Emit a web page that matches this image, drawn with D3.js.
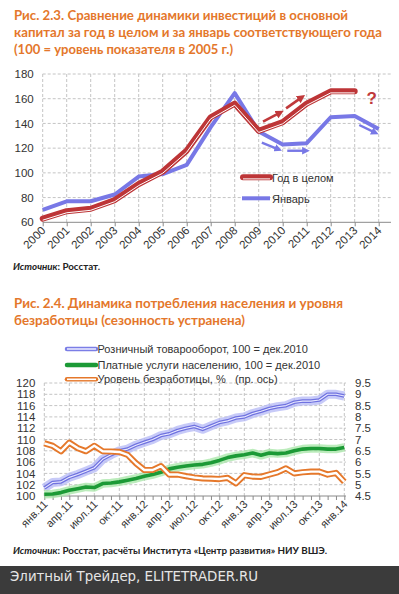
<!DOCTYPE html>
<html>
<head>
<meta charset="utf-8">
<script src="https://cdn.jsdelivr.net/npm/d3@7"></script>
<style>
  body { margin: 0; background: #fff; }
  svg { display: block; }
  .title { font-family: Lato, 'Open Sans', sans-serif; font-weight: bold; font-size: 13px; fill: #e4772b; }
  .lbl { font-family: 'Liberation Sans', Arial, sans-serif; font-size: 11px; fill: #333; }
  .src { font-family: Lato, 'Open Sans', sans-serif; font-size: 10px; fill: #222; font-weight: bold; }
  .grid { stroke: #c4c4c4; stroke-dasharray: 3,2; stroke-width: 1; }
  .axis-line { stroke: #8a8a8a; stroke-width: 1; }
</style>
</head>
<body>
<svg width="399" height="594"></svg>
<script>
// ---- data: chart 2.3 ----
const years = [2000, 2001, 2002, 2003, 2004, 2005, 2006, 2007, 2008, 2009, 2010, 2011, 2012, 2013, 2014];
const yearTotal = [63, 69, 71, 78, 91, 101, 118, 145, 156, 134, 141, 156, 166, 166];
const january = [70, 77, 77, 82.5, 97, 99, 106.5, 137, 164.5, 133.5, 123, 124, 145, 146, 135.5];
const topTicks = [60, 80, 100, 120, 140, 160, 180];
// annotation arrows [year0, value0, year1, value1]
const redArrows = [[2009.18, 141.4, 2009.89, 148.7], [2010.14, 152.2, 2010.79, 161.1]];
const blueArrows = [[2009.13, 124.4, 2009.82, 119.1], [2010.19, 117.9, 2010.97, 117.9], [2013.19, 138.7, 2013.85, 132.5]];

// ---- data: chart 2.4 (monthly, янв.11 .. янв.14) ----
const monthLabels = ['янв.11', 'апр.11', 'июл.11', 'окт.11', 'янв.12', 'апр.12', 'июл.12',
  'окт.12', 'янв.13', 'апр.13', 'июл.13', 'окт.13', 'янв.14'];
const retail = [101.4, 102.4, 102.5, 103.3, 103.8, 104.4, 105.0, 106.5, 107.3, 108.0, 108.3, 109.0,
  109.5, 110.0, 110.7, 111.0, 111.6, 112.0, 112.3, 111.8, 112.4, 113.0, 113.3, 113.8,
  114.0, 114.6, 115.0, 115.5, 115.8, 116.0, 116.6, 116.8, 116.8, 117.0, 118.0, 118.0, 117.7];
const services = [100.3, 100.35, 100.6, 101.0, 101.3, 101.6, 101.5, 102.2, 102.3, 102.5, 102.8, 103.1,
  103.5, 103.8, 104.2, 104.8, 105.1, 105.3, 105.5, 105.6, 105.9, 106.3, 106.8, 107.1,
  107.3, 107.6, 107.2, 107.6, 107.5, 107.6, 108.0, 108.3, 108.4, 108.4, 108.3, 108.3, 108.6];
const unemployment = [6.83, 6.72, 6.48, 6.86, 6.62, 6.48, 6.72, 6.48, 6.47, 6.45, 6.32, 5.95,
  5.65, 5.65, 5.82, 5.45, 5.45, 5.38, 5.32, 5.28, 5.27, 5.25, 5.3, 5.06,
  5.42, 5.36, 5.35, 5.45, 5.55, 5.72, 5.5, 5.55, 5.58, 5.58, 5.45, 5.52, 5.13];
const leftTicks = [100, 102, 104, 106, 108, 110, 112, 114, 116, 118, 120];
const rightTicks = [4.5, 5, 5.5, 6, 6.5, 7, 7.5, 8, 8.5, 9, 9.5];

const svg = d3.select('svg');

const defs = svg.append('defs');
const addHead = (id, color) => defs.append('marker')
  .attr('id', id).attr('viewBox', '0 0 10 10').attr('refX', 5).attr('refY', 5)
  .attr('markerWidth', 3.2).attr('markerHeight', 3.2).attr('orient', 'auto')
  .append('path').attr('d', 'M0,0L10,5L0,10z').attr('fill', color);
addHead('headRed', '#c0393b');
addHead('headBlue', '#7878e6');

// titles
const titleLines = (lines, y0, widths) => lines.forEach((t, i) => {
  svg.append('text').attr('class', 'title').attr('x', 14).attr('y', y0 + i * 17)
    .attr('textLength', widths[i]).attr('lengthAdjust', 'spacingAndGlyphs').text(t);
});
titleLines(['Рис. 2.3. Сравнение динамики инвестиций в основной',
  'капитал за год в целом и за январь соответствующего года',
  '(100 = уровень показателя в 2005 г.)'], 20, [334, 368, 219]);

// ===== chart 2.3 =====
const topPlotRight = 391;
const x1 = d3.scaleLinear().domain([2000, 2014]).range([42.7, 378.7]);
const y1 = d3.scaleLinear().domain([60, 180]).range([222.3, 74]);
const g1 = svg.append('g');

g1.selectAll('.hgrid').data(topTicks.slice(1)).enter().append('line')
  .attr('class', 'grid').attr('x1', x1(2000)).attr('x2', topPlotRight)
  .attr('y1', d => y1(d)).attr('y2', d => y1(d));
g1.selectAll('.vgrid').data(years).enter().append('line')
  .attr('class', 'grid').attr('x1', d => x1(d)).attr('x2', d => x1(d))
  .attr('y1', y1(180)).attr('y2', y1(60));

const yAxis1 = g1.append('g').attr('transform', `translate(${x1(2000)},0)`)
  .call(d3.axisLeft(y1).tickValues(topTicks).tickSize(0).tickPadding(9));
yAxis1.select('.domain').remove();
yAxis1.selectAll('text').attr('class', 'lbl').style('font-size', '11.5px');

const xAxis1 = g1.append('g').attr('transform', `translate(0,${y1(60)})`)
  .call(d3.axisBottom(x1).tickValues(years).tickFormat(d3.format('d')).tickSize(4).tickSizeOuter(0));
xAxis1.select('.domain').attr('d', `M${x1(2000)},0H${topPlotRight}`).attr('class', 'axis-line');
xAxis1.selectAll('line').attr('stroke', '#8a8a8a');
xAxis1.selectAll('text').attr('class', 'lbl').style('font-size', '11.5px')
  .attr('text-anchor', 'end').attr('dy', null).attr('y', 0)
  .attr('transform', 'translate(3,9) rotate(-45)');

const line1 = d3.line().x((d, i) => x1(years[i])).y(d => y1(d));
g1.append('path').attr('d', line1(january)).attr('fill', 'none')
  .attr('stroke', '#7878e6').attr('stroke-width', 4).attr('stroke-linejoin', 'round');
g1.append('path').attr('d', line1(yearTotal)).attr('fill', 'none')
  .attr('stroke', '#bd3537').attr('stroke-width', 6).attr('stroke-linejoin', 'round').attr('stroke-linecap', 'round');
g1.append('path').attr('d', line1(yearTotal)).attr('fill', 'none')
  .attr('transform', 'translate(0,1.6)')
  .attr('stroke', '#fff').attr('stroke-width', 1).attr('stroke-linejoin', 'round');

const drawArrows = (arr, color, head, w) => g1.selectAll(null).data(arr).enter().append('line')
  .attr('x1', d => x1(d[0])).attr('y1', d => y1(d[1]))
  .attr('x2', d => x1(d[2])).attr('y2', d => y1(d[3]))
  .attr('stroke', color).attr('stroke-width', w).attr('marker-end', `url(#${head})`);
drawArrows(redArrows, '#c0393b', 'headRed', 2.6);
drawArrows(blueArrows, '#7878e6', 'headBlue', 2.4);
g1.append('text').attr('x', x1(2013.71)).attr('y', y1(160.3) + 6)
  .attr('text-anchor', 'middle').attr('font-family', 'Liberation Sans, Arial, sans-serif')
  .attr('font-weight', 'bold').attr('font-size', 17).attr('fill', '#c0393b').text('?');

// legend 2.3
const leg1 = g1.append('g');
leg1.append('line').attr('x1', 243).attr('x2', 270).attr('y1', 177.3).attr('y2', 177.3)
  .attr('stroke', '#bd3537').attr('stroke-width', 6).attr('stroke-linecap', 'round');
leg1.append('line').attr('x1', 243).attr('x2', 270).attr('y1', 178.9).attr('y2', 178.9)
  .attr('stroke', '#fff').attr('stroke-width', 1);
leg1.append('line').attr('x1', 242).attr('x2', 270).attr('y1', 198.3).attr('y2', 198.3)
  .attr('stroke', '#7878e6').attr('stroke-width', 4);
leg1.append('text').attr('class', 'lbl').attr('x', 272).attr('y', 181.5).text('Год в целом');
leg1.append('text').attr('class', 'lbl').attr('x', 272).attr('y', 202.5).text('Январь');

const src1 = svg.append('text').attr('class', 'src').attr('x', 13).attr('y', 269.5)
  .attr('textLength', 87).attr('lengthAdjust', 'spacingAndGlyphs');
src1.append('tspan').attr('font-style', 'italic').text('Источник');
src1.append('tspan').text(': Росстат.');

// ===== chart 2.4 =====
titleLines(['Рис. 2.4. Динамика потребления населения и уровня',
  'безработицы (сезонность устранена)'], 307.5, [329, 231]);

const x2 = d3.scaleLinear().domain([0, 36]).range([44.3, 344.3]);
const yL = d3.scaleLinear().domain([100, 120]).range([496, 383]);
const yR = d3.scaleLinear().domain([4.5, 9.5]).range([496, 383]);
const botRight = 346;
const g2 = svg.append('g');

g2.selectAll('.hgrid').data(leftTicks.slice(1)).enter().append('line')
  .attr('class', 'grid').attr('x1', x2(0)).attr('x2', botRight)
  .attr('y1', d => yL(d)).attr('y2', d => yL(d));
const quarterIdx = monthLabels.map((d, i) => i * 3);
g2.selectAll('.vgrid').data(quarterIdx).enter().append('line')
  .attr('class', 'grid').attr('x1', d => x2(d)).attr('x2', d => x2(d))
  .attr('y1', yL(120)).attr('y2', yL(100));

const yAxisL = g2.append('g').attr('transform', `translate(${x2(0)},0)`)
  .call(d3.axisLeft(yL).tickValues(leftTicks).tickSize(0).tickPadding(9));
yAxisL.select('.domain').remove();
yAxisL.selectAll('text').attr('class', 'lbl').style('font-size', '11.5px');

const yAxisR = g2.append('g').attr('transform', `translate(${botRight},0)`)
  .call(d3.axisRight(yR).tickValues(rightTicks).tickSize(0).tickPadding(9).tickFormat(d => String(d)));
yAxisR.select('.domain').remove();
yAxisR.selectAll('text').attr('class', 'lbl').style('font-size', '11.5px');

const xAxis2 = g2.append('g').attr('transform', `translate(0,${yL(100)})`)
  .call(d3.axisBottom(x2).tickValues(d3.range(0, 37)).tickSize(4).tickSizeOuter(0).tickFormat(''));
xAxis2.select('.domain').attr('d', `M${x2(0)},0H${botRight}`).attr('class', 'axis-line');
xAxis2.selectAll('line').attr('stroke', '#8a8a8a');
g2.selectAll('.mlbl').data(monthLabels).enter().append('text')
  .attr('class', 'lbl').style('font-size', '11px').attr('text-anchor', 'end')
  .attr('transform', (d, i) => `translate(${x2(i * 3) + 4},${yL(100) + 9}) rotate(-45)`)
  .text(d => d);

const lineL = d3.line().x((d, i) => x2(i)).y(d => yL(d));
const lineR = d3.line().x((d, i) => x2(i)).y(d => yR(d));
const stroke = (sel, color, w, op) => sel.attr('fill', 'none').attr('stroke', color)
  .attr('stroke-width', w).attr('stroke-opacity', op || 1).attr('stroke-linejoin', 'round');

stroke(g2.append('path').attr('d', lineL(retail)), '#b4b8f6', 9, 0.75);
stroke(g2.append('path').attr('d', lineL(retail)), '#6f72e0', 3.6);
stroke(g2.append('path').attr('d', lineL(retail)), '#e8e8ff', 1.1);

stroke(g2.append('path').attr('d', lineL(services)), '#a5e6a5', 8.5, 0.75);
stroke(g2.append('path').attr('d', lineL(services)), '#1c9a36', 3.6);

stroke(g2.append('path').attr('d', lineR(unemployment)), '#e5782b', 6.2);
stroke(g2.append('path').attr('d', lineR(unemployment)), '#fff', 2.4);

// legend 2.4
const legRows = [
  { y: 349, label: 'Розничный товарооборот, 100 = дек.2010', c: '#7b7ee6', inner: '#e8e8ff' },
  { y: 365, label: 'Платные услуги населению, 100 = дек.2010', c: '#1c9a36', inner: null },
  { y: 379.3, label: 'Уровень безработицы, %   (пр. ось)', c: '#e5782b', inner: '#fff' }
];
const leg2 = g2.selectAll('.leg2').data(legRows).enter().append('g');
leg2.append('line').attr('x1', 67).attr('x2', 96).attr('y1', d => d.y).attr('y2', d => d.y)
  .attr('stroke', d => d.c).attr('stroke-width', 4.5).attr('stroke-linecap', 'round');
leg2.filter(d => d.inner).append('line').attr('x1', 67).attr('x2', 96)
  .attr('y1', d => d.y).attr('y2', d => d.y).attr('stroke', d => d.inner).attr('stroke-width', 1.6);
leg2.append('text').attr('class', 'lbl').attr('x', 97.5).attr('y', d => d.y + 4)
  .style('white-space', 'pre').text(d => d.label);

const src2 = svg.append('text').attr('class', 'src').attr('x', 13).attr('y', 553.5)
  .attr('textLength', 314).attr('lengthAdjust', 'spacingAndGlyphs');
src2.append('tspan').attr('font-style', 'italic').text('Источник');
src2.append('tspan').text(': Росстат, расчёты Института «Центр развития» НИУ ВШЭ.');

// footer bar
svg.append('rect').attr('x', 0).attr('y', 566).attr('width', 399).attr('height', 28).attr('fill', '#3b3b3b');
svg.append('text').attr('x', 10).attr('y', 580.5).attr('font-family', 'DejaVu Sans, sans-serif')
  .attr('font-size', 14).attr('fill', '#e6e6e6').attr('textLength', 248).attr('lengthAdjust', 'spacingAndGlyphs')
  .text('Элитный Трейдер, ELITETRADER.RU');
</script>
</body>
</html>
